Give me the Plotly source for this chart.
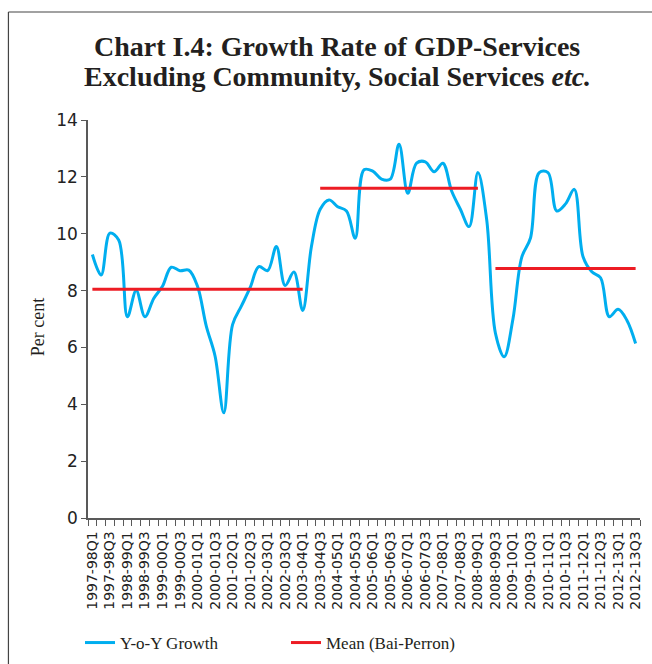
import plotly.graph_objects as go

# ---------------- data ----------------
fiscal_years = ["1997-98", "1998-99", "1999-00", "2000-01", "2001-02", "2002-03",
                "2003-04", "2004-05", "2005-06", "2006-07", "2007-08", "2008-09",
                "2009-10", "2010-11", "2011-12", "2012-13"]
quarters = ["Q1", "Q2", "Q3", "Q4"]
periods = [fy + q for fy in fiscal_years for q in quarters][:63]

yoy_growth = [9.27, 8.55, 10.02, 9.78, 7.08, 8.0, 7.08, 7.72, 8.15, 8.82,
              8.7, 8.72, 8.15, 6.75, 5.7, 3.7, 6.8, 7.45, 8.1, 8.84,
              8.7, 9.55, 8.18, 8.65, 7.3, 9.55, 10.86, 11.19, 10.95, 10.8,
              9.84, 12.25, 12.2, 11.92, 11.92, 13.15, 11.42, 12.48, 12.53, 12.18,
              12.48, 11.5, 10.86, 10.25, 12.15, 10.5, 6.5, 5.67, 7.0, 9.17,
              9.85, 12.15, 12.15, 10.8, 11.05, 11.56, 9.19, 8.66, 8.45, 7.08,
              7.34, 6.96, 6.14]

mean_levels = [8.05, 11.6, 8.78]
regime_first = ["1997-98Q1", "2003-04Q3", "2008-09Q3"]
regime_last = ["2003-04Q1", "2008-09Q1", "2012-13Q3"]

# build mean series (gaps between regimes)
mean_series = [None] * len(periods)
for lvl, a, b in zip(mean_levels, regime_first, regime_last):
    ia, ib = periods.index(a), periods.index(b)
    for k in range(ia, ib + 1):
        mean_series[k] = lvl

xs = list(range(len(periods)))

# ---------------- layout geometry ----------------
W, H = 652, 664
L, R, T, B = 88, 9, 120, 146
PW, PH = W - L - R, H - T - B


def px(x):
    return (x - L) / PW


def py(y):
    return (H - B - y) / PH


SANS = "DejaVu Sans"
SERIF = "Liberation Serif"
AXC = "#595959"
TXT = "#231f20"

fig = go.Figure()
fig.add_trace(go.Scatter(
    x=xs, y=yoy_growth, mode="lines", name="Y-o-Y Growth",
    line=dict(color="#00AEEF", width=3, shape="spline", smoothing=1.0),
    legend="legend", hoverinfo="skip"))
fig.add_trace(go.Scatter(
    x=xs, y=mean_series, mode="lines", name="Mean (Bai-Perron)",
    line=dict(color="#ED1C24", width=3), connectgaps=False,
    legend="legend2", hoverinfo="skip"))

fig.update_layout(
    width=W, height=H,
    margin=dict(l=L, r=R, t=T, b=B, pad=0),
    paper_bgcolor="white", plot_bgcolor="white",
    showlegend=True,
    legend=dict(xref="container", yref="container", x=80 / W, y=1 - 643 / H,
                xanchor="left", yanchor="middle", orientation="h",
                font=dict(family=SERIF, size=17, color=TXT),
                bgcolor="rgba(0,0,0,0)"),
    legend2=dict(xref="container", yref="container", x=286 / W, y=1 - 643 / H,
                 xanchor="left", yanchor="middle", orientation="h",
                 font=dict(family=SERIF, size=17, color=TXT),
                 bgcolor="rgba(0,0,0,0)"),
    xaxis=dict(
        range=[-0.5, len(periods) - 0.5],
        tickmode="array", tickvals=xs[::2], ticktext=periods[::2],
        tickangle=-90, ticks="outside", ticklen=6, tickcolor="rgba(0,0,0,0)",
        tickfont=dict(family=SANS, size=14, color="#222"),
        showline=True, linecolor=AXC, linewidth=1.5,
        showgrid=False, zeroline=False,
        minor=dict(tickmode="array", tickvals=[i - 0.5 for i in range(len(periods) + 1)],
                   ticks="outside", ticklen=6, tickcolor=AXC, tickwidth=1,
                   showgrid=False),
    ),
    yaxis=dict(
        range=[0, 14], tickmode="linear", tick0=0, dtick=2,
        ticks="outside", ticklen=5, tickcolor=AXC, tickwidth=1.2,
        tickfont=dict(family=SANS, size=17, color="#222"),
        showline=True, linecolor=AXC, linewidth=1.5,
        showgrid=False, zeroline=False,
    ),
)

# frame (left and top borders)
fig.add_shape(type="line", xref="paper", yref="paper",
              x0=px(8), x1=px(8), y0=py(12), y1=py(H + 5),
              line=dict(color="#444", width=1.2))
fig.add_shape(type="line", xref="paper", yref="paper",
              x0=px(8), x1=px(W + 5), y0=py(12), y1=py(12),
              line=dict(color="#444", width=1.2))

# title lines
fig.add_annotation(text="<b>Chart I.4: Growth Rate of GDP-Services</b>",
                   xref="paper", yref="paper", x=px(338), y=py(47),
                   xanchor="center", yanchor="middle", showarrow=False,
                   font=dict(family=SERIF, size=28, color=TXT))
fig.add_annotation(text="<b>Excluding Community, Social Services <i>etc.</i></b>",
                   xref="paper", yref="paper", x=px(339), y=py(77),
                   xanchor="center", yanchor="middle", showarrow=False,
                   font=dict(family=SERIF, size=28, color=TXT))

# y-axis title
fig.add_annotation(text="Per cent", xref="paper", yref="paper",
                   x=px(38), y=py(327), xanchor="center", yanchor="middle",
                   textangle=-90, showarrow=False,
                   font=dict(family=SERIF, size=18, color=TXT))

fig.write_html("out.html",
               config={"displayModeBar": False},
               post_script="document.body.style.margin='0';"
                           "document.body.style.padding='0';"
                           "document.documentElement.style.overflow='hidden';")
